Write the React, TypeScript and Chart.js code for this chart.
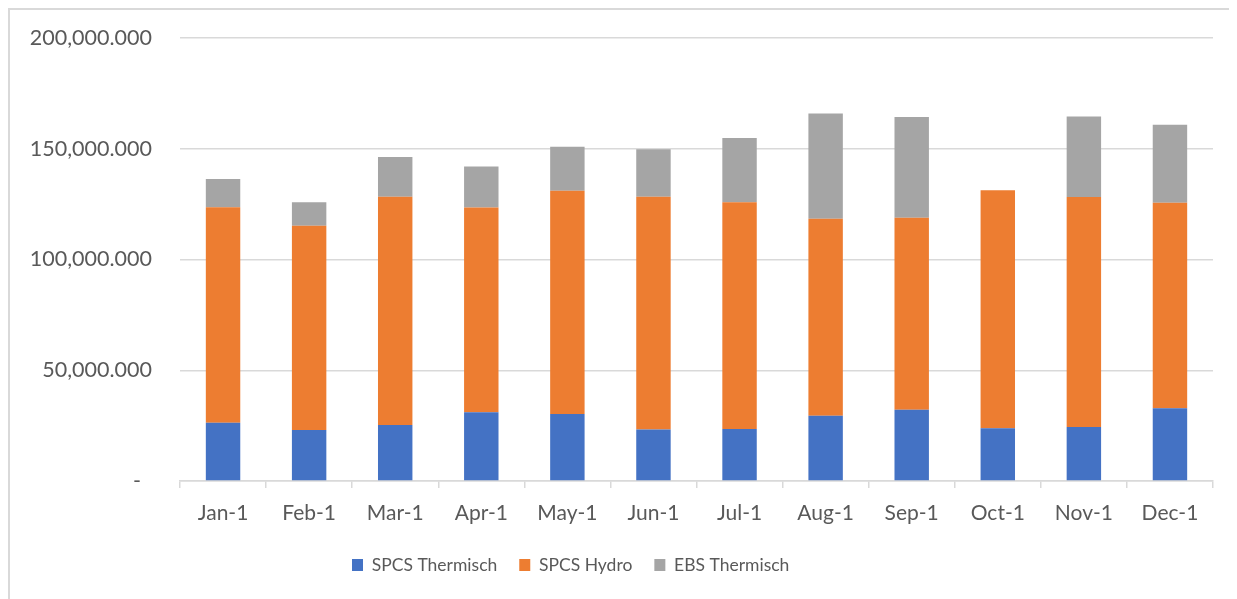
import React, { useEffect, useRef } from "react";
import { Chart, registerables } from "chart.js";

Chart.register(...registerables);

const categories = ["Jan-1", "Feb-1", "Mar-1", "Apr-1", "May-1", "Jun-1", "Jul-1", "Aug-1", "Sep-1", "Oct-1", "Nov-1", "Dec-1"];
const spcsThermisch = [26300, 23000, 25300, 31000, 30200, 23200, 23500, 29500, 32200, 23800, 24400, 32800];
const spcsHydro = [97300, 92200, 103000, 92500, 100800, 105100, 102300, 88900, 86600, 107500, 103800, 92800];
const ebsThermisch = [12700, 10700, 18000, 18500, 19900, 21500, 29100, 47500, 45500, 0, 36400, 35200];
const yTicks = [0, 50000, 100000, 150000, 200000];

const FONT = "Lato";
const TEXT = "#595959";
const GRID = "#d9d9d9";
const LEGEND_PAD = 22;

const legendShift = {
  id: "legendShift",
  afterLayout(chart: any) {
    const lg = chart.legend;
    if (lg) {
      const w = lg.right - lg.left;
      lg.left = 342 - LEGEND_PAD;
      lg.right = lg.left + w;
    }
  },
};

export default function App() {
  const ref = useRef<HTMLCanvasElement>(null);

  useEffect(() => {
    if (!ref.current) return;
    const chart = new Chart(ref.current, {
      type: "bar",
      data: {
        labels: categories,
        datasets: [
          { label: "SPCS Thermisch", data: spcsThermisch, backgroundColor: "#4472C4" },
          { label: "SPCS Hydro", data: spcsHydro, backgroundColor: "#ED7D31" },
          { label: "EBS Thermisch", data: ebsThermisch, backgroundColor: "#A5A5A5" },
        ],
      },
      plugins: [legendShift],
      options: {
        animation: false,
        responsive: false,
        maintainAspectRatio: false,
        layout: { padding: { top: 28, right: 24, bottom: 15.25, left: 0 } },
        datasets: { bar: { barPercentage: 0.4, categoryPercentage: 1.0 } },
        plugins: {
          tooltip: { enabled: false },
          legend: {
            position: "bottom",
            align: "start",
            labels: {
              font: { family: FONT, size: 17.5 },
              color: TEXT,
              boxWidth: 11,
              boxHeight: 12,
              padding: LEGEND_PAD,
            },
          },
        },
        scales: {
          x: {
            stacked: true,
            grid: {
              offset: true,
              drawOnChartArea: false,
              drawTicks: true,
              tickLength: 7,
              color: GRID,
              lineWidth: 1.5,
            },
            border: { color: GRID, width: 1.5 },
            ticks: { font: { family: FONT, size: 21 }, color: TEXT, padding: 12.5, maxRotation: 0 },
            afterFit: (s: any) => { s.height = 53.25; },
          },
          y: {
            stacked: true,
            min: 0,
            max: 200000,
            afterBuildTicks: (s: any) => { s.ticks = yTicks.map((v) => ({ value: v })); },
            grid: { color: GRID, lineWidth: 1.5, drawTicks: true, tickLength: 28, tickColor: "rgba(0,0,0,0)" },
            border: { display: false },
            ticks: {
              font: { family: FONT, size: 21.5 },
              color: TEXT,
              padding: 0,
              callback: (v: any) =>
                Number(v) === 0
                  ? "-  "
                  : Number(v).toLocaleString("en-US", { minimumFractionDigits: 3, maximumFractionDigits: 3 }),
            },
            afterFit: (s: any) => { s.width = 170; },
          },
        },
      },
    });
    return () => chart.destroy();
  }, []);

  return (
    <div
      style={{
        width: 1229,
        height: 591,
        boxSizing: "border-box",
        borderTop: `2px solid ${GRID}`,
        borderLeft: `2px solid ${GRID}`,
        background: "#fff",
      }}
    >
      <canvas ref={ref} width={1227} height={589} style={{ display: "block" }} />
    </div>
  );
}
